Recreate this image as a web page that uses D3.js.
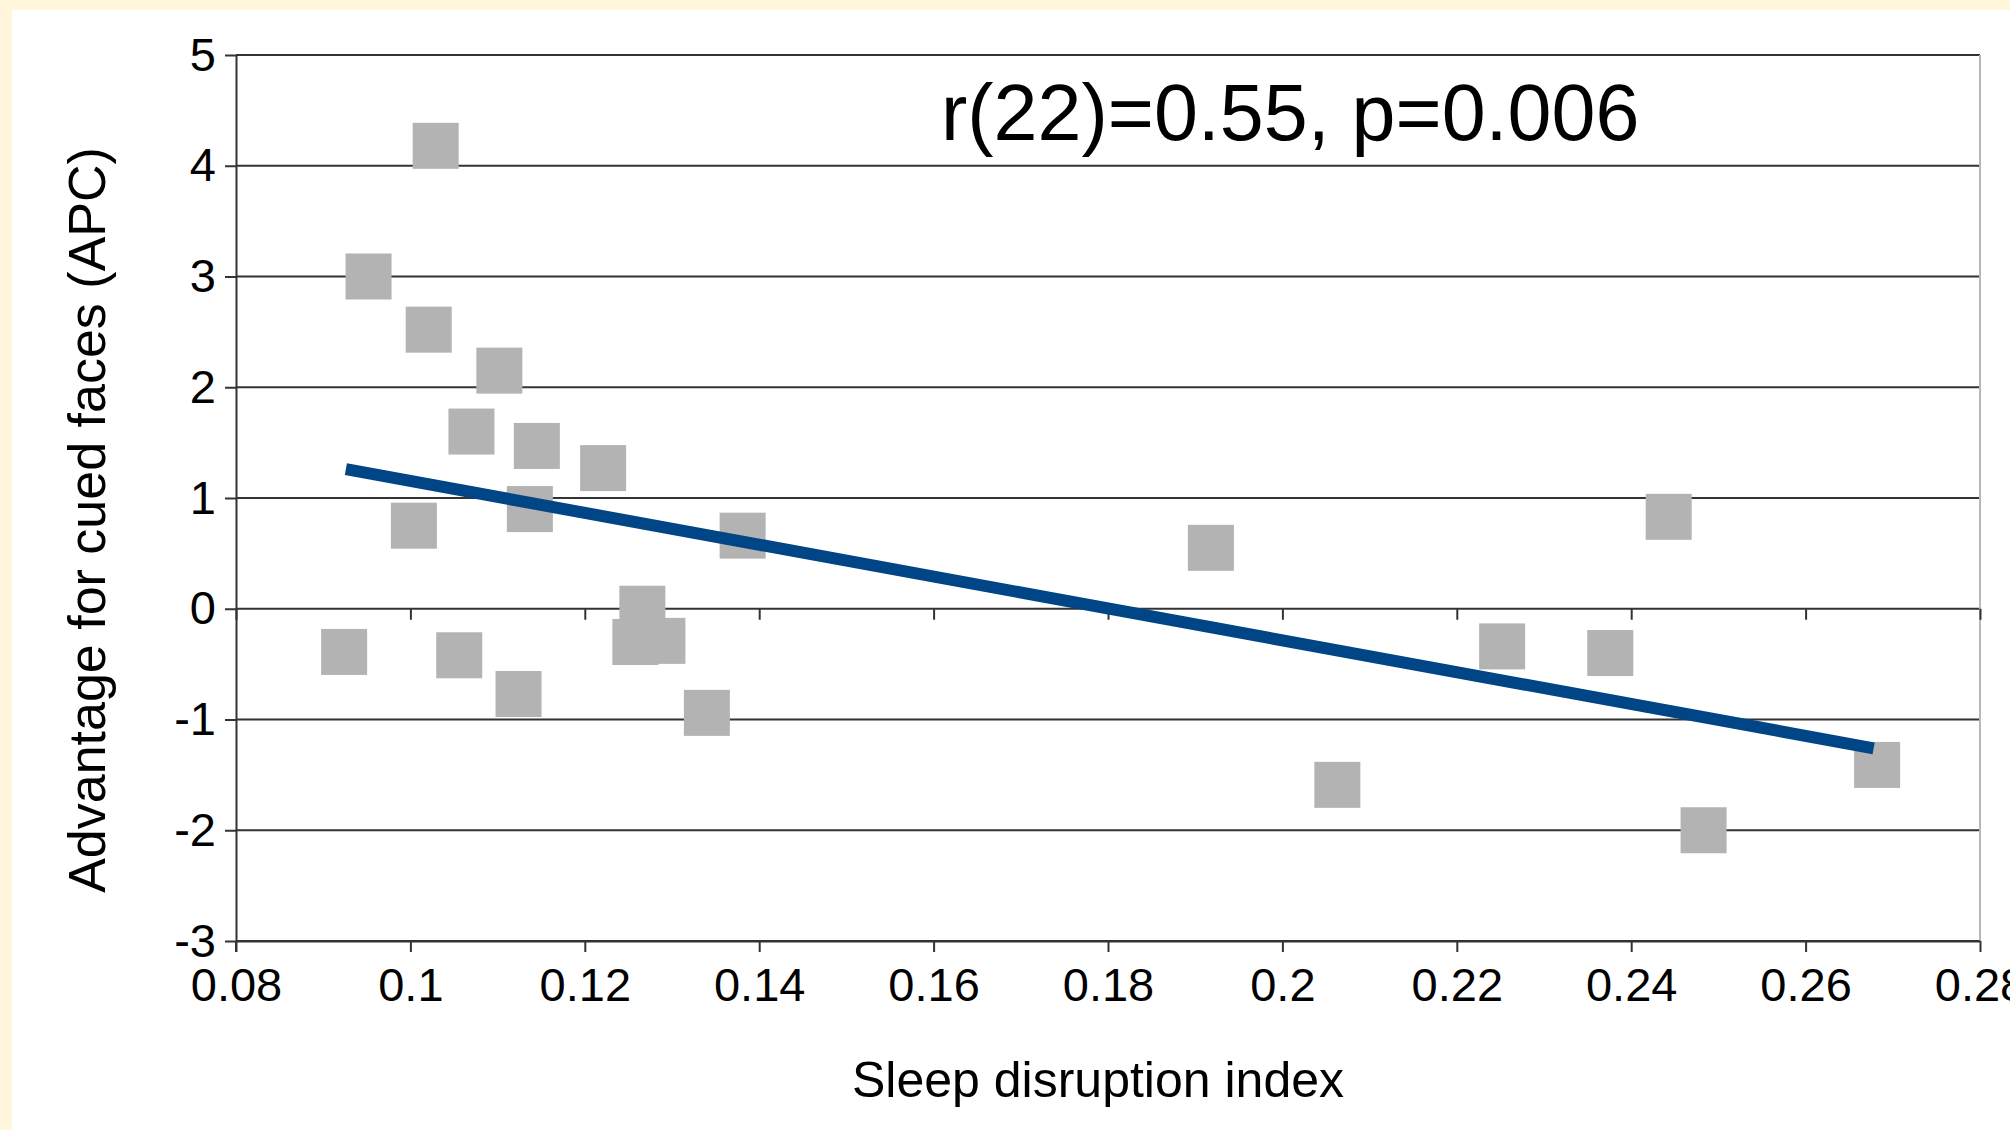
<!DOCTYPE html>
<html>
<head>
<meta charset="utf-8">
<script src="https://cdn.jsdelivr.net/npm/d3@7"></script>
<style>
  body { margin: 0; background: #fff6dc; }
  svg { display: block; }
  text { font-family: "Liberation Sans", Arial, sans-serif; fill: #000; }
</style>
</head>
<body>
<div id="chart"></div>
<script>
// data
const sleepIdx = [0.0924, 0.0952, 0.1029, 0.1021, 0.1102, 0.1070, 0.1145, 0.1221,
  0.1004, 0.1137, 0.1056, 0.1124, 0.1266, 0.1258, 0.1289, 0.1340, 0.1381,
  0.1918, 0.2063, 0.2252, 0.2376, 0.2443, 0.2483, 0.2682];
const apc = [-0.39, 3.00, 4.18, 2.52, 2.15, 1.60, 1.47, 1.27,
  0.75, 0.90, -0.42, -0.77, 0.00, -0.30, -0.29, -0.94, 0.66,
  0.55, -1.59, -0.34, -0.40, 0.83, -2.00, -1.41];

// trend line end points
const trendX = [0.0926, 0.2678];
const trendY = [1.26, -1.26];

const xTicks = [0.08, 0.10, 0.12, 0.14, 0.16, 0.18, 0.20, 0.22, 0.24, 0.26, 0.28];
const xTickLabels = ["0.08", "0.1", "0.12", "0.14", "0.16", "0.18", "0.2", "0.22", "0.24", "0.26", "0.28"];
const yTicks = [-3, -2, -1, 0, 1, 2, 3, 4, 5];
const yTickLabels = ["-3", "-2", "-1", "0", "1", "2", "3", "4", "5"];

const W = 2010, H = 1130;
const pLeft = 236, pRight = 1980, pTop = 55, pBottom = 941;
const lineCol = "#333";

const svg = d3.select("#chart")
  .append("svg")
  .attr("width", W)
  .attr("height", H);

// white panel on cream page
svg.append("rect")
  .attr("x", 12).attr("y", 10)
  .attr("width", W - 12).attr("height", H - 10)
  .attr("fill", "#fff");

const x = d3.scaleLinear().domain([0.08, 0.28]).range([pLeft, pRight]);
const y = d3.scaleLinear().domain([-3, 5]).range([pBottom, pTop]);

// horizontal grid
svg.append("g")
  .selectAll("line")
  .data(yTicks)
  .join("line")
  .attr("x1", pLeft).attr("x2", pRight)
  .attr("y1", d => y(d)).attr("y2", d => y(d))
  .attr("stroke", lineCol).attr("stroke-width", 2);

// right border
svg.append("line")
  .attr("x1", pRight).attr("x2", pRight)
  .attr("y1", pTop).attr("y2", pBottom)
  .attr("stroke", "#b8b8b8").attr("stroke-width", 2);

// y axis
const yAxis = svg.append("g")
  .attr("transform", `translate(${pLeft},0)`)
  .call(d3.axisLeft(y)
    .tickValues(yTicks)
    .tickFormat((d, i) => yTickLabels[i])
    .tickSize(11)
    .tickSizeOuter(0)
    .tickPadding(9));

// x axis at the bottom
const xAxis = svg.append("g")
  .attr("transform", `translate(0,${pBottom})`)
  .call(d3.axisBottom(x)
    .tickValues(xTicks)
    .tickFormat((d, i) => xTickLabels[i])
    .tickSize(11)
    .tickSizeOuter(0)
    .tickPadding(16));

// ticks along the zero line
const zeroAxis = svg.append("g")
  .attr("transform", `translate(0,${y(0)})`)
  .call(d3.axisBottom(x)
    .tickValues(xTicks)
    .tickFormat("")
    .tickSize(11)
    .tickSizeOuter(0));
zeroAxis.select(".domain").remove();

[yAxis, xAxis, zeroAxis].forEach(g => {
  g.selectAll(".domain").attr("stroke", lineCol).attr("stroke-width", 2);
  g.selectAll(".tick line").attr("stroke", lineCol).attr("stroke-width", 2);
  g.selectAll(".tick text")
    .attr("font-size", 47)
    .attr("font-family", "'Liberation Sans', Arial, sans-serif")
    .attr("fill", "#000");
});
// y axis line runs a little below the x axis
svg.append("line")
  .attr("x1", pLeft).attr("x2", pLeft)
  .attr("y1", pBottom).attr("y2", pBottom + 11)
  .attr("stroke", lineCol).attr("stroke-width", 2);

// points
const sz = 46;
svg.append("g")
  .selectAll("rect")
  .data(sleepIdx)
  .join("rect")
  .attr("x", d => x(d) - sz / 2)
  .attr("y", (d, i) => y(apc[i]) - sz / 2)
  .attr("width", sz).attr("height", sz)
  .attr("fill", "#b3b3b3");

// trend line
const line = d3.line()
  .x(d => x(d[0]))
  .y(d => y(d[1]));
svg.append("path")
  .attr("d", line(trendX.map((d, i) => [d, trendY[i]])))
  .attr("fill", "none")
  .attr("stroke", "#004586")
  .attr("stroke-width", 12);

// annotation
svg.append("text")
  .attr("x", 941).attr("y", 140)
  .attr("font-size", 79)
  .text("r(22)=0.55, p=0.006");

// axis titles
svg.append("text")
  .attr("x", 1098).attr("y", 1097)
  .attr("text-anchor", "middle")
  .attr("font-size", 50)
  .text("Sleep disruption index");

svg.append("text")
  .attr("transform", "translate(105,520) rotate(-90)")
  .attr("text-anchor", "middle")
  .attr("font-size", 52)
  .text("Advantage for cued faces (APC)");
</script>
</body>
</html>
